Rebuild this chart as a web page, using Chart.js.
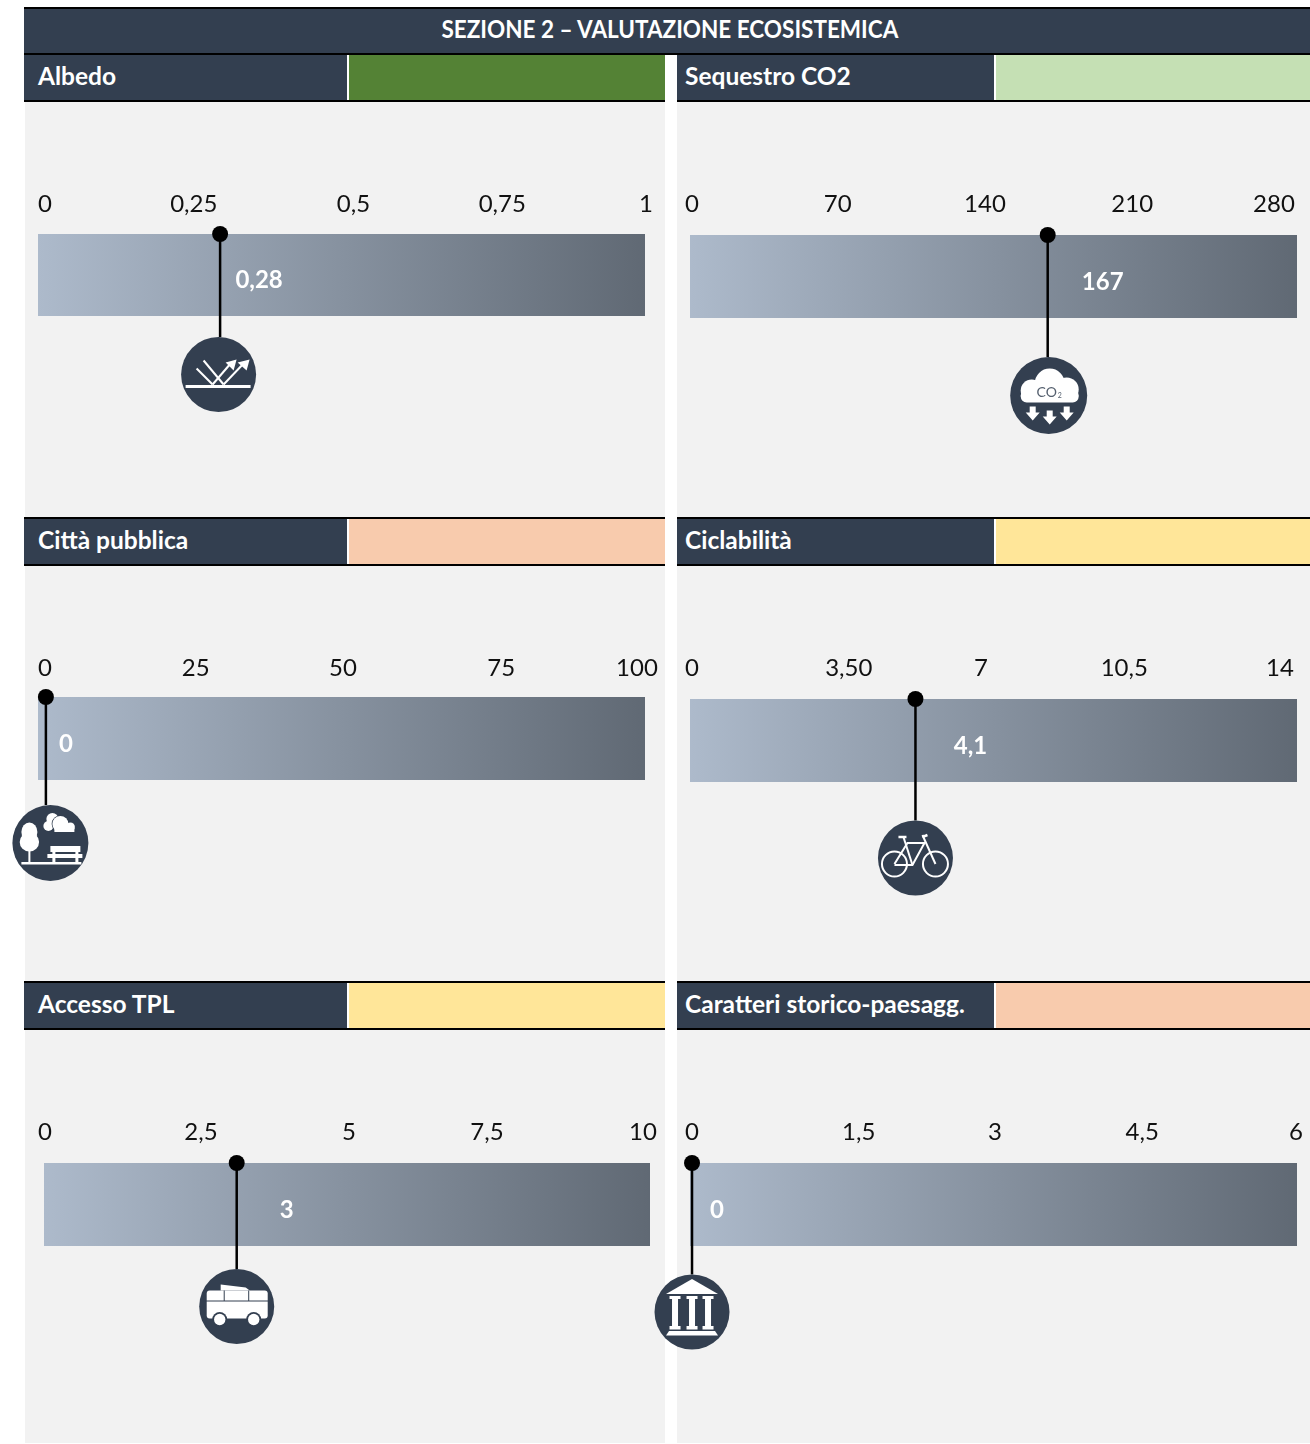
<!DOCTYPE html>
<html>
<head>
<meta charset="utf-8">
<title>Sezione 2</title>
<script src="https://cdn.jsdelivr.net/npm/chart.js@4/dist/chart.umd.min.js"></script>
<style>
html,body{margin:0;padding:0;background:#fff;}
#page{position:relative;width:1310px;height:1444px;overflow:hidden;font-family:Lato,sans-serif;}
.abs{position:absolute;box-sizing:border-box;}
.dark{background:#333f50;color:#fff;font-weight:bold;}
canvas{position:absolute;}
</style>
</head>
<body>
<div id="page"></div>
<script>
// data
const sectionTitle = 'SEZIONE 2 – VALUTAZIONE ECOSISTEMICA';
const panelNames = ['Albedo', 'Sequestro CO2', 'Città pubblica', 'Ciclabilità', 'Accesso TPL', 'Caratteri storico-paesagg.'];
const statusColors = ['#548235', '#c5e0b4', '#f8cbad', '#ffe699', '#ffe699', '#f8cbad'];
const axisMax = [1, 280, 100, 14, 10, 6];
const tickValues = [
  [0, 0.25, 0.5, 0.75, 1],
  [0, 70, 140, 210, 280],
  [0, 25, 50, 75, 100],
  [0, 3.5, 7, 10.5, 14],
  [0, 2.5, 5, 7.5, 10],
  [0, 1.5, 3, 4.5, 6]
];
const tickLabels = [
  ['0', '0,25', '0,5', '0,75', '1'],
  ['0', '70', '140', '210', '280'],
  ['0', '25', '50', '75', '100'],
  ['0', '3,50', '7', '10,5', '14'],
  ['0', '2,5', '5', '7,5', '10'],
  ['0', '1,5', '3', '4,5', '6']
];
const valueLabels = ['0,28', '167', '0', '4,1', '3', '0'];
// the pins in the picture do not sit exactly on the printed value
const pinValues = [0.30, 165, 1.3, 5.2, 3.18, 0.02];

// layout, one entry per panel
const barBox = [
  {l: 38, r: 645, t: 234, b: 316},
  {l: 690, r: 1297, t: 235, b: 318},
  {l: 38, r: 645, t: 697, b: 780},
  {l: 690, r: 1297, t: 699, b: 782},
  {l: 44, r: 650, t: 1163, b: 1246},
  {l: 690, r: 1297, t: 1163, b: 1246}
];
const labelShift = [
  [7, 4, 12, 9, 1],
  [2, -4, -8.5, -13, -23],
  [7, 6, 1.5, 8, -8],
  [2, 7, -12.5, -21, -17],
  [1, 5.5, 2, -11.5, -7],
  [2, 17, 1.5, -3, -1]
];
const tickPad = [15, 16, 14, 16, 16, 16];
const pinLength = [103, 122, 108, 121.5, 106, 111.5];
const iconStyle = [
  {dx: -1.5, r: 37.5, draw: iconAlbedo},
  {dx: 1, r: 38.5, draw: iconCO2},
  {dx: 4.5, r: 38, draw: iconPark},
  {dx: 0, r: 37.5, draw: iconBike},
  {dx: 0, r: 37.5, draw: iconBus},
  {dx: 0, r: 37.5, draw: iconTemple}
];
const valueOffset = [
  {x: 39, y: 46},
  {x: 55, y: 47},
  {x: 20, y: 47},
  {x: 55, y: 47},
  {x: 50, y: 47},
  {x: 25, y: 47}
];
const NAVY = '#333f50';

// page furniture
const page = document.getElementById('page');
function box(x, y, w, h, css, text) {
  const d = document.createElement('div');
  d.className = 'abs';
  d.style.cssText = `left:${x}px;top:${y}px;width:${w}px;height:${h}px;${css || ''}`;
  if (text) d.textContent = text;
  page.appendChild(d);
  return d;
}
box(25, 100, 640, 1343, 'background:#f2f2f2');
box(677, 100, 633, 1343, 'background:#f2f2f2');
box(24, 7, 1286, 2, 'background:#000');
box(24, 9, 1286, 44, 'background:#333f50');
const head = box(24, 9, 1292, 44, '');
head.innerHTML = `<span style="display:inline-block;transform:scaleX(.9)">${sectionTitle}</span>`;
head.style.cssText += 'text-align:center;line-height:39px;font-size:25px;font-weight:bold;color:#fff;';
box(24, 53, 1286, 2, 'background:#000');

const rowTop = [55, 55, 519, 519, 983, 983];
panelNames.forEach((name, i) => {
  const right = i % 2 === 1;
  const x = right ? 677 : 24;
  const endX = right ? 1310 : 665;
  const splitX = right ? 994 : 347;
  const y = rowTop[i];
  if (i > 1) box(x, y - 2, endX - x, 2, 'background:#000');
  const cell = box(x, y, splitX - x, 45, '');
  cell.className = 'abs dark';
  cell.innerHTML = `<span style="display:inline-block;transform-origin:0 50%;transform:scaleX(.98)">${name}</span>`;
  cell.style.cssText += `padding-left:${right ? 8 : 14}px;line-height:41px;font-size:25px;white-space:nowrap;`;
  box(splitX, y, 2, 45, 'background:#fff');
  box(splitX + 2, y, endX - splitX - 2, 45, `background:${statusColors[i]}`);
  box(x, y + 45, endX - x, 2, 'background:#000');
});

// white value inside the bar, and the round icon at the foot of the pin
const pinExtras = {
  id: 'pinExtras',
  afterDatasetsDraw(chart, args, opts) {
    const i = opts.panel;
    const ctx = chart.ctx;
    const foot = chart.getDatasetMeta(0).data[1];
    const st = iconStyle[i];
    const cx = foot.x + st.dx;
    const cy = foot.y + st.r;
    ctx.save();
    ctx.fillStyle = '#fff';
    ctx.font = 'bold 24px Lato, sans-serif';
    ctx.textAlign = 'center';
    ctx.textBaseline = 'middle';
    ctx.fillText(valueLabels[i], foot.x + valueOffset[i].x, chart.chartArea.top + valueOffset[i].y);
    ctx.beginPath();
    ctx.arc(cx, cy, st.r, 0, Math.PI * 2);
    ctx.fillStyle = NAVY;
    ctx.fill();
    ctx.translate(cx, cy);
    ctx.fillStyle = '#fff';
    ctx.strokeStyle = '#fff';
    ctx.lineWidth = 2;
    st.draw(ctx);
    ctx.restore();
  }
};

function seg(ctx, pts, w) {
  ctx.beginPath();
  pts.forEach((p, k) => k ? ctx.lineTo(p[0], p[1]) : ctx.moveTo(p[0], p[1]));
  if (w) ctx.lineWidth = w;
  ctx.stroke();
}
function poly(ctx, pts) {
  ctx.beginPath();
  pts.forEach((p, k) => k ? ctx.lineTo(p[0], p[1]) : ctx.moveTo(p[0], p[1]));
  ctx.closePath();
  ctx.fill();
}
function disc(ctx, x, y, r) {
  ctx.beginPath();
  ctx.arc(x, y, r, 0, Math.PI * 2);
  ctx.fill();
}

function iconAlbedo(ctx) {
  seg(ctx, [[-33, 12], [32, 12]], 3);
  seg(ctx, [[-22, -6], [-6, 10]], 2);
  seg(ctx, [[-15, -14], [5, 10]], 2);
  seg(ctx, [[-6, 10], [12, -11]], 2);
  seg(ctx, [[5, 10], [25, -11]], 2);
  poly(ctx, [[18, -15], [7, -12], [15, -4]]);
  poly(ctx, [[31, -15], [19, -12], [28, -4]]);
}
function iconCO2(ctx) {
  disc(ctx, -17, -5, 11);
  disc(ctx, 1, -12, 15);
  disc(ctx, 18, -6, 12);
  ctx.beginPath();
  ctx.roundRect(-28, -6, 58, 13, 6);
  ctx.fill();
  ctx.fillStyle = '#55606f';
  ctx.font = '14px Lato, sans-serif';
  ctx.textAlign = 'center';
  ctx.textBaseline = 'middle';
  ctx.fillText('CO', -2, -3);
  ctx.font = '7px Lato, sans-serif';
  ctx.fillText('2', 11, 0);
  ctx.fillStyle = '#fff';
  [[-16, 11], [1, 15], [18, 11]].forEach(a => {
    poly(ctx, [[a[0] - 3, a[1]], [a[0] + 3, a[1]], [a[0] + 3, a[1] + 6], [a[0] + 7, a[1] + 6],
      [a[0], a[1] + 14], [a[0] - 7, a[1] + 6], [a[0] - 3, a[1] + 6]]);
  });
}
function iconPark(ctx) {
  ctx.fillRect(-29, 19, 60, 2.5);
  ctx.beginPath();
  ctx.ellipse(-21, -11, 8, 9.5, 0, 0, Math.PI * 2);
  ctx.fill();
  ctx.beginPath();
  ctx.ellipse(-21, -1, 9.7, 9.5, 0, 0, Math.PI * 2);
  ctx.fill();
  ctx.fillRect(-22, 6, 2, 14);
  // clouds
  disc(ctx, 2, -24, 6);
  disc(ctx, -2, -17, 5);
  ctx.strokeStyle = NAVY;
  ctx.lineWidth = 1.5;
  ctx.beginPath();
  ctx.arc(10, -19, 8, 0, Math.PI * 2);
  ctx.stroke();
  ctx.fill();
  disc(ctx, 20, -16, 4.5);
  ctx.fillRect(4, -15, 20, 4);
  // bench
  ctx.fillRect(0, 3, 30, 6);
  ctx.fillRect(-3, 11, 35, 4);
  ctx.fillRect(2, 8, 3, 12);
  ctx.fillRect(25, 8, 3, 12);
}
function iconBike(ctx) {
  ctx.beginPath();
  ctx.arc(-21, 6, 12.5, 0, Math.PI * 2);
  ctx.stroke();
  ctx.beginPath();
  ctx.arc(20, 6, 12.5, 0, Math.PI * 2);
  ctx.stroke();
  seg(ctx, [[-21, 6], [-8, -15], [9, -15], [-3, 7], [-21, 7]], 2);
  seg(ctx, [[-12, -21], [-3, 7]], 2);
  seg(ctx, [[7, -23], [20, 6]], 2);
  seg(ctx, [[-17, -21], [-9, -21]], 2.5);
  seg(ctx, [[7, -21], [12, -23]], 2.5);
}
function iconBus(ctx) {
  poly(ctx, [[-16, -22], [9, -19], [13, -16], [-16, -16]]);
  ctx.beginPath();
  ctx.roundRect(-30, -16, 61, 28, 3);
  ctx.fill();
  ctx.strokeStyle = NAVY;
  ctx.lineWidth = 1;
  seg(ctx, [[-31, -5.5], [32, -5.5]]);
  seg(ctx, [[-12.5, -16], [-12.5, -5.5]]);
  seg(ctx, [[12, -16], [12, -5.5]]);
  [-17, 17].forEach(x => {
    ctx.fillStyle = NAVY;
    disc(ctx, x, 13, 7.5);
    ctx.fillStyle = '#fff';
    disc(ctx, x, 13, 5.7);
  });
}
function iconTemple(ctx) {
  poly(ctx, [[0, -33], [26, -18], [-26, -18]]);
  [-17, 0, 16].forEach(x => {
    ctx.fillRect(x - 5.5, -16, 11, 3);
    ctx.fillRect(x - 3, -13, 6, 27);
    ctx.fillRect(x - 5.5, 14, 11, 3.5);
  });
  poly(ctx, [[-23, 19], [23, 19], [26, 23.5], [-26, 23.5]]);
}

// one chart per panel, overlapping where the icons spill over
panelNames.forEach((name, i) => {
  const bar = barBox[i];
  const right = i % 2 === 1;
  const canvasLeft = right ? 640 : 0;
  const canvasTop = bar.t - 50;
  const canvasW = 710;
  const canvasH = 300;
  const canvas = document.createElement('canvas');
  canvas.style.left = canvasLeft + 'px';
  canvas.style.top = canvasTop + 'px';
  canvas.style.width = canvasW + 'px';
  canvas.style.height = canvasH + 'px';
  canvas.width = canvasW;
  canvas.height = canvasH;
  page.appendChild(canvas);

  const pxToValue = axisMax[i] / (bar.r - bar.l);

  new Chart(canvas.getContext('2d'), {
    type: 'bar',
    data: {
      labels: [name],
      datasets: [
        {
          type: 'scatter',
          indexAxis: 'x',
          xAxisID: 'x',
          yAxisID: 'pinY',
          order: 0,
          clip: false,
          showLine: true,
          data: [{x: pinValues[i], y: 0}, {x: pinValues[i], y: pinLength[i]}],
          borderColor: '#000',
          borderWidth: 2.5,
          pointRadius: [8, 0],
          pointBorderWidth: 0,
          pointBackgroundColor: '#000'
        },
        {
          type: 'bar',
          xAxisID: 'x',
          yAxisID: 'y',
          order: 1,
          grouped: false,
          data: [axisMax[i]],
          barPercentage: 1,
          categoryPercentage: 1,
          borderWidth: 0,
          backgroundColor(c) {
            const area = c.chart.chartArea;
            if (!area) return '#8794a5';
            const g = c.chart.ctx.createLinearGradient(area.left, 0, area.right, 0);
            g.addColorStop(0, '#adbacb');
            g.addColorStop(1, '#606974');
            return g;
          }
        }
      ]
    },
    options: {
      indexAxis: 'y',
      responsive: false,
      animation: false,
      events: [],
      layout: {
        padding: {
          left: bar.l - canvasLeft,
          right: canvasW - (bar.r - canvasLeft),
          top: 0,
          bottom: canvasH - 50 - (bar.b - bar.t)
        }
      },
      plugins: {
        legend: {display: false},
        tooltip: {enabled: false},
        title: {display: false},
        pinExtras: {panel: i}
      },
      scales: {
        x: {
          type: 'linear',
          position: 'top',
          min: 0,
          max: axisMax[i],
          offset: false,
          afterFit(s) { s.height = 50; },
          afterBuildTicks(s) {
            s.ticks = tickValues[i].map((v, j) => ({value: v + labelShift[i][j] * pxToValue}));
          },
          grid: {display: false, drawTicks: false},
          border: {display: false},
          ticks: {
            autoSkip: false,
            maxRotation: 0,
            padding: tickPad[i],
            color: '#111',
            font: {family: 'Lato, sans-serif', size: 24},
            callback: (v, j) => tickLabels[i][j]
          }
        },
        y: {type: 'category', display: false, offset: true},
        pinY: {type: 'linear', axis: 'y', display: false, reverse: true, offset: false, min: 0, max: bar.b - bar.t}
      }
    },
    plugins: [pinExtras]
  });
});
</script>
</body>
</html>
